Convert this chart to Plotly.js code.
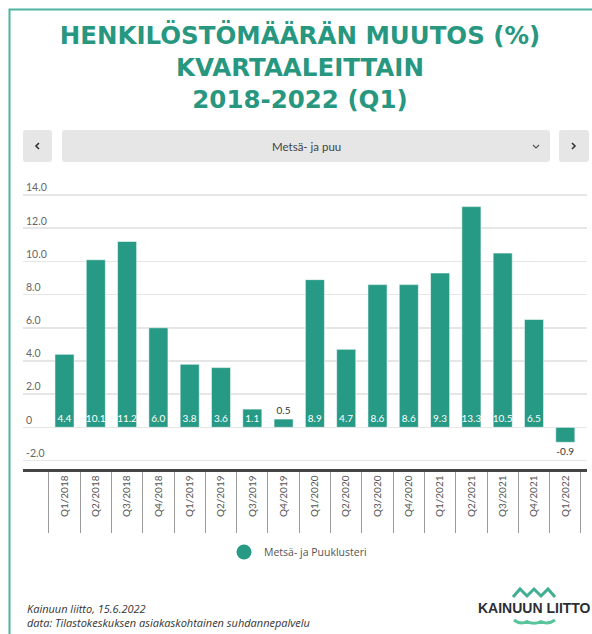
<!DOCTYPE html>
<html>
<head>
<meta charset="utf-8">
<script src="https://cdn.plot.ly/plotly-3.0.1.min.js"></script>
<style>
  html, body { margin: 0; padding: 0; background: #ffffff; }
  #chart { width: 592px; height: 634px; }
</style>
</head>
<body>
<div id="chart"></div>
<script>
// ---- data ----
const categories = ['Q1/2018','Q2/2018','Q3/2018','Q4/2018','Q1/2019','Q2/2019','Q3/2019','Q4/2019',
                    'Q1/2020','Q2/2020','Q3/2020','Q4/2020','Q1/2021','Q2/2021','Q3/2021','Q4/2021','Q1/2022'];
const values = [4.4, 10.1, 11.2, 6.0, 3.8, 3.6, 1.1, 0.5, 8.9, 4.7, 8.6, 8.6, 9.3, 13.3, 10.5, 6.5, -0.9];
const seriesName = 'Metsä- ja Puuklusteri';
const selectorLabel = 'Metsä- ja puu';
const yTickVals = [-2, 0, 2, 4, 6, 8, 10, 12, 14];
const yTickText = ['-2.0', '0', '2.0', '4.0', '6.0', '8.0', '10.0', '12.0', '14.0'];
const titleLines = ['HENKILÖSTÖMÄÄRÄN MUUTOS (%)', 'KVARTAALEITTAIN', '2018-2022 (Q1)'];
const footerLines = ['Kainuun liitto, 15.6.2022', 'data: Tilastokeskuksen asiakaskohtainen suhdannepalvelu'];
const logoText = 'KAINUUN LIITTO';

// ---- layout geometry ----
const W = 592, H = 634, L = 23, R = 5, T = 181, B = 165;
const plotW = W - L - R, plotH = H - T - B;
const px = x => (x - L) / plotW;
const py = y => (H - B - y) / plotH;
const teal = '#279a86';

function rrect(x0, y0, x1, y1, r) {
  const pts = [
    ['M', x0 + r, y0], ['L', x1 - r, y0], ['Q', x1, y0, x1, y0 + r],
    ['L', x1, y1 - r], ['Q', x1, y1, x1 - r, y1], ['L', x0 + r, y1],
    ['Q', x0, y1, x0, y1 - r], ['L', x0, y0 + r], ['Q', x0, y0, x0 + r, y0]
  ];
  return pts.map(p => {
    const cmd = p[0]; const c = p.slice(1);
    const out = [];
    for (let i = 0; i < c.length; i += 2) out.push(px(c[i]).toFixed(5) + ',' + py(c[i + 1]).toFixed(5));
    return cmd + out.join(' ');
  }).join(' ') + ' Z';
}
function poly(points, closed) {
  return points.map((p, i) => (i ? 'L' : 'M') + px(p[0]).toFixed(5) + ',' + py(p[1]).toFixed(5)).join(' ') + (closed ? ' Z' : '');
}

const textPos = values.map(v => Math.abs(v) < 1 ? 'outside' : 'inside');

const traces = [
  {
    type: 'bar',
    x: categories,
    y: values,
    name: seriesName,
    showlegend: false,
    marker: { color: teal, line: { color: 'rgba(255,255,255,0.55)', width: 1 } },
    texttemplate: '%{y:.1f}',
    textposition: textPos,
    textangle: 0,
    insidetextanchor: 'start',
    constraintext: 'none',
    cliponaxis: false,
    insidetextfont: { family: 'Lato, sans-serif', size: 10, color: '#ffffff' },
    outsidetextfont: { family: 'Lato, sans-serif', size: 10, color: '#333333' },
    hoverinfo: 'x+y'
  },
  {
    type: 'scatter',
    mode: 'markers',
    x: [null], y: [null],
    name: seriesName,
    marker: { color: teal, size: 15, symbol: 'circle' },
    showlegend: true,
    hoverinfo: 'skip'
  }
];

const shapes = [
  // frame
  { type: 'path', xref: 'paper', yref: 'paper', path: poly([[9.5, 634], [9.5, 9.5], [592, 9.5]]),
    line: { color: '#4fb3a1', width: 2 } },
  // selector buttons
  { type: 'path', xref: 'paper', yref: 'paper', path: rrect(23, 130, 52, 162, 3), fillcolor: '#e6e6e6', line: { width: 0 } },
  { type: 'path', xref: 'paper', yref: 'paper', path: rrect(62, 130, 550, 162, 3), fillcolor: '#e6e6e6', line: { width: 0 } },
  { type: 'path', xref: 'paper', yref: 'paper', path: rrect(559, 130, 589, 162, 3), fillcolor: '#e6e6e6', line: { width: 0 } },
  // chevrons
  { type: 'path', xref: 'paper', yref: 'paper', path: poly([[39, 143], [36, 146], [39, 149]]), line: { color: '#333', width: 1.6 } },
  { type: 'path', xref: 'paper', yref: 'paper', path: poly([[572, 143], [575, 146], [572, 149]]), line: { color: '#333', width: 1.6 } },
  { type: 'path', xref: 'paper', yref: 'paper', path: poly([[533, 145], [536, 148], [539, 145]]), line: { color: '#555', width: 1.2 } },
  // logo waves
  { type: 'path', xref: 'paper', yref: 'paper',
    path: poly([[513, 597], [520, 589], [527, 596], [534, 589], [541, 596], [548, 589], [555, 597]]),
    line: { color: '#3fae93', width: 3 } },
  { type: 'path', xref: 'paper', yref: 'paper',
    path: 'M' + px(514) + ',' + py(620) + ' Q' + px(520.5) + ',' + py(625) + ' ' + px(527) + ',' + py(621.5) +
          ' Q' + px(534) + ',' + py(625) + ' ' + px(541) + ',' + py(621.5) +
          ' Q' + px(548) + ',' + py(625) + ' ' + px(555) + ',' + py(620),
    line: { color: '#58c49a', width: 3 } }
];

const annotations = [
  { xref: 'paper', yref: 'paper', x: px(306), y: py(146), text: selectorLabel, showarrow: false,
    xanchor: 'center', yanchor: 'middle', font: { family: 'Lato, sans-serif', size: 11.5, color: '#444' } },
  { xref: 'paper', yref: 'paper', x: px(25), y: py(608), text: '<i>' + footerLines[0] + '</i>', showarrow: false,
    xanchor: 'left', yanchor: 'middle', font: { family: 'Open Sans, sans-serif', size: 11, color: '#333' } },
  { xref: 'paper', yref: 'paper', x: px(25), y: py(622.5), text: '<i>' + footerLines[1] + '</i>', showarrow: false,
    xanchor: 'left', yanchor: 'middle', font: { family: 'Open Sans, sans-serif', size: 11, color: '#333' } },
  { xref: 'paper', yref: 'paper', x: px(534), y: py(607.5), text: '<b>' + logoText + '</b>', showarrow: false,
    xanchor: 'center', yanchor: 'middle', font: { family: 'Liberation Sans, Arial, sans-serif', size: 14, color: '#2b2f33' } }
];

const layout = {
  width: W, height: H,
  margin: { l: L, r: R, t: T, b: B, pad: 0 },
  paper_bgcolor: '#ffffff', plot_bgcolor: '#ffffff',
  title: {
    text: '<b>' + titleLines.join('<br>') + '</b>',
    x: 300 / W, xanchor: 'center', xref: 'container',
    y: 1 - 44 / H, yanchor: 'top', yref: 'container',
    font: { family: 'DejaVu Sans, sans-serif', size: 24.5, color: '#27977f' }
  },
  bargap: 0.39,
  xaxis: {
    type: 'category',
    range: [(L - 64.5) / 31.3, (W - R - 64.5) / 31.3],
    showgrid: false, zeroline: false,
    showline: true, linecolor: '#444', linewidth: 2.5,
    tickson: 'boundaries', ticks: 'outside', ticklen: 61, tickcolor: '#9a9a9a', tickwidth: 1,
    tickangle: -90,
    tickfont: { family: 'Lato, sans-serif', size: 10, color: '#555' },
    fixedrange: true
  },
  yaxis: {
    range: [-2.51, 14 + (195 - T) / 16.59],
    tickmode: 'array', tickvals: yTickVals, ticktext: yTickText,
    ticklabelposition: 'inside top',
    showgrid: true, gridcolor: '#e6e6e6', gridwidth: 1.5,
    zeroline: false, showline: false, ticks: '',
    tickfont: { family: 'Lato, sans-serif', size: 10.5, color: '#666' },
    fixedrange: true
  },
  showlegend: true,
  legend: {
    orientation: 'h', x: px(298), xanchor: 'center', y: py(552), yanchor: 'middle',
    font: { family: 'Open Sans, sans-serif', size: 10.5, color: '#555' },
    itemsizing: 'trace', bgcolor: 'rgba(0,0,0,0)'
  },
  shapes: shapes,
  annotations: annotations
};

Plotly.newPlot('chart', traces, layout, { displayModeBar: false, staticPlot: true });
</script>
</body>
</html>
